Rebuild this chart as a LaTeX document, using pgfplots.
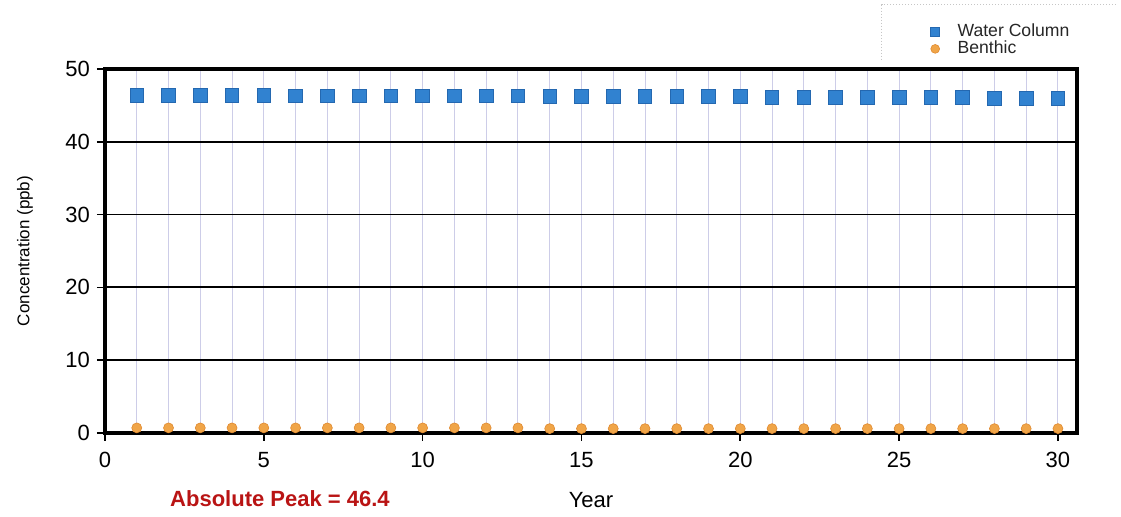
\documentclass[border=0pt]{standalone}
\usepackage{pgfplots}
\pgfplotsset{compat=1.18}
\usepackage{fontspec}
\setmainfont{Liberation Sans}
\definecolor{wcblue}{HTML}{3182D0}
\definecolor{wcblueD}{HTML}{2468B0}
\definecolor{benor}{HTML}{F0A548}
\definecolor{benorD}{HTML}{E08A30}
\definecolor{gridlav}{RGB}{205,205,232}
\definecolor{peakred}{RGB}{185,20,20}
\begin{document}
\begin{tikzpicture}
\begin{axis}[
  scale only axis,
  width=486pt, height=182pt,
  xmin=0, xmax=30.6, ymin=0, ymax=50,
  xtick={0,5,...,30}, ytick={0,10,...,50},
  minor xtick={1,2,...,30},
  minor tick length=0pt,
  major tick length=4pt,
  tick align=outside,
  tick style={black, line width=0.8pt},
  xtick pos=bottom, ytick pos=left,
  xminorgrids=true, xmajorgrids=false, ymajorgrids=true,
  minor grid style={gridlav, line width=0.5pt},
  major grid style={black, line width=0.9pt},
  axis line style={black, line width=1.6pt},
  /pgf/number format/assume math mode=true,
  tick label style={font=\fontsize{11}{13}\selectfont},
  xticklabel style={yshift=-2pt},
  xlabel={Year},
  xlabel style={at={(axis description cs:0.5,-0.184)}, anchor=center, font=\fontsize{11}{13}\selectfont},
  ylabel={Concentration (ppb)},
  ylabel style={at={(axis description cs:-0.0823,0.5)}, anchor=center, font=\fontsize{8.5}{10}\selectfont},
  legend style={at={(axis description cs:0.843,1.146)}, anchor=north west, draw=none, fill=none,
    font=\fontsize{8.8}{7}\selectfont, text=black!85, row sep=-3.5pt, column sep=7pt, cells={anchor=west}},
  legend image post style={mark size=2.2pt},
  clip=false,
]
\addplot[only marks, mark=square*, mark size=3.4pt, mark options={fill=wcblue, draw=wcblueD, line width=0.4pt}]
coordinates {
(1,46.4)(2,46.4)(3,46.4)(4,46.4)(5,46.4)(6,46.3)(7,46.3)(8,46.3)(9,46.3)(10,46.3)
(11,46.3)(12,46.3)(13,46.3)(14,46.2)(15,46.2)(16,46.2)(17,46.2)(18,46.2)(19,46.2)(20,46.2)
(21,46.1)(22,46.1)(23,46.1)(24,46.1)(25,46.1)(26,46.1)(27,46.1)(28,46.0)(29,46.0)(30,46.0)
};
\addlegendentry{Water Column}
\addplot[only marks, mark=*, mark size=2.5pt, mark options={fill=benor, draw=benorD, line width=0.3pt}]
coordinates {
(1,0.7)(2,0.7)(3,0.7)(4,0.7)(5,0.7)(6,0.7)(7,0.7)(8,0.7)(9,0.7)(10,0.7)
(11,0.7)(12,0.7)(13,0.7)(14,0.6)(15,0.6)(16,0.6)(17,0.6)(18,0.6)(19,0.6)(20,0.6)
(21,0.6)(22,0.6)(23,0.6)(24,0.6)(25,0.6)(26,0.6)(27,0.6)(28,0.6)(29,0.6)(30,0.6)
};
\addlegendentry{Benthic}
\draw[gray!45, line width=0.5pt, densely dotted] (rel axis cs:1.04,1.176) -- (rel axis cs:0.799,1.176) -- (rel axis cs:0.799,1.025);
\node[font=\bfseries\fontsize{11}{13}\selectfont, text=peakred, anchor=center] at (rel axis cs:0.18,-0.179) {Absolute Peak = 46.4};
\end{axis}
\path[use as bounding box] ([xshift=-52.5pt,yshift=-42pt]current axis.south west) rectangle ([xshift=22pt,yshift=34.5pt]current axis.north east);
\end{tikzpicture}
\end{document}
